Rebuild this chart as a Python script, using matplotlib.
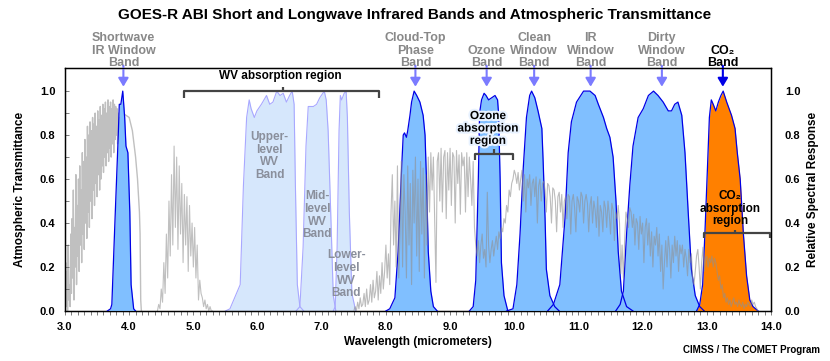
import numpy as np
import matplotlib
matplotlib.use("Agg")
import matplotlib.pyplot as plt
import matplotlib.patheffects as pe

plt.rcParams["font.family"] = ["Liberation Sans", "DejaVu Sans"]
plt.rcParams["font.weight"] = "bold"

# ---- atmospheric transmittance (gray), sampled segments
trans_swir = [
    0.05, 0.22, 0.02, 0.18, 0.00, 0.30, 0.05, 0.12, 0.02, 0.35,
    0.08, 0.42, 0.15, 0.55, 0.05, 0.38, 0.20, 0.62, 0.12, 0.48,
    0.25, 0.60, 0.18, 0.66, 0.30, 0.55, 0.22, 0.72, 0.35, 0.68,
    0.28, 0.78, 0.40, 0.70, 0.33, 0.84, 0.45, 0.80, 0.38, 0.86,
    0.50, 0.82, 0.42, 0.88, 0.55, 0.85, 0.48, 0.90, 0.58, 0.84,
    0.52, 0.91, 0.62, 0.87, 0.55, 0.93, 0.60, 0.89, 0.66, 0.94,
    0.63, 0.92, 0.70, 0.95, 0.66, 0.90, 0.72, 0.96, 0.68, 0.93,
    0.74, 0.95, 0.70, 0.92, 0.76, 0.96, 0.72, 0.94, 0.78, 0.93,
    0.80, 0.92, 0.76, 0.90, 0.82, 0.88, 0.84, 0.90, 0.86, 0.89,
]
trans_swir_tail_wl = [3.90, 3.95, 4.00, 4.05, 4.10, 4.13, 4.16, 4.17, 4.18, 4.19]
trans_swir_tail = [0.90, 0.89, 0.88, 0.82, 0.70, 0.60, 0.45, 0.35, 0.05, 0.00]
trans_mwir = [
    0.00, 0.03, 0.01, 0.10, 0.04, 0.22, 0.08, 0.35, 0.15, 0.50,
    0.25, 0.62, 0.30, 0.75, 0.38, 0.70, 0.28, 0.66, 0.35, 0.58,
    0.22, 0.53, 0.30, 0.52, 0.18, 0.48, 0.25, 0.40, 0.20, 0.38,
    0.15, 0.30, 0.05, 0.14, 0.08, 0.06, 0.02, 0.05, 0.01, 0.03,
    0.00, 0.02, 0.00, 0.00,
]
trans_lwir = [
    0.00, 0.02, 0.00, 0.04, 0.01, 0.06, 0.02, 0.03, 0.08, 0.02,
    0.10, 0.03, 0.05, 0.12, 0.04, 0.14, 0.06, 0.09, 0.18, 0.05,
    0.16, 0.08, 0.22, 0.10, 0.18, 0.30, 0.15, 0.26, 0.12, 0.45,
    0.62, 0.30, 0.50, 0.20, 0.66, 0.15,
    0.35, 0.68, 0.20, 0.62, 0.45, 0.15, 0.66, 0.30, 0.58, 0.12,
    0.64, 0.40, 0.70, 0.25, 0.60, 0.18, 0.68, 0.35, 0.65, 0.15,
    0.62, 0.30, 0.70, 0.45, 0.72, 0.55, 0.70, 0.42, 0.13, 0.68,
    0.72, 0.50, 0.74, 0.45, 0.70, 0.73, 0.42, 0.72, 0.55, 0.74,
    0.48, 0.72, 0.70, 0.40, 0.73, 0.58, 0.71, 0.44, 0.72, 0.66,
    0.70, 0.45, 0.72, 0.52, 0.70, 0.60, 0.48, 0.68, 0.38, 0.30,
    0.25, 0.32, 0.22, 0.30, 0.35, 0.24, 0.28, 0.20, 0.54, 0.30,
    0.22, 0.28, 0.32, 0.25, 0.30, 0.34, 0.28, 0.36, 0.33, 0.38,
    0.36, 0.42, 0.40, 0.48, 0.45, 0.55, 0.52, 0.58, 0.60, 0.64,
    0.62, 0.58, 0.63, 0.55, 0.60, 0.64, 0.50, 0.62, 0.45, 0.60,
    0.56, 0.62, 0.48, 0.58, 0.60, 0.52, 0.61, 0.40, 0.57, 0.60,
    0.50, 0.58, 0.59, 0.55, 0.45, 0.58, 0.57, 0.52, 0.40, 0.56,
    0.55, 0.50, 0.36, 0.52, 0.54, 0.45, 0.53, 0.38, 0.50, 0.52,
    0.42, 0.53, 0.52, 0.35, 0.50, 0.53, 0.47, 0.36, 0.52, 0.50,
    0.45, 0.54, 0.52, 0.40, 0.50, 0.53, 0.49, 0.36, 0.48, 0.52,
    0.40, 0.50, 0.46, 0.38, 0.52, 0.34, 0.48, 0.45, 0.36, 0.50,
    0.47, 0.38, 0.50, 0.44, 0.35, 0.49, 0.46, 0.32, 0.45, 0.42,
    0.48, 0.40, 0.17, 0.30, 0.15, 0.32, 0.45, 0.42, 0.38, 0.47,
    0.45, 0.38, 0.44, 0.30, 0.42, 0.40, 0.28, 0.43, 0.35, 0.40,
    0.22, 0.38, 0.42, 0.30, 0.40, 0.25, 0.36, 0.20, 0.34, 0.30,
    0.38, 0.25, 0.35, 0.18, 0.30, 0.10, 0.22, 0.32, 0.20, 0.34,
    0.28, 0.15, 0.30, 0.22, 0.34, 0.25, 0.32, 0.18, 0.30, 0.26,
    0.30, 0.20, 0.28, 0.24, 0.16, 0.28, 0.22, 0.26, 0.14, 0.12,
    0.18, 0.25, 0.28, 0.20, 0.10, 0.22, 0.29, 0.18, 0.24, 0.25,
    0.20, 0.24, 0.22, 0.25, 0.20, 0.24, 0.22, 0.18, 0.14, 0.16,
    0.10, 0.12, 0.06, 0.08, 0.04, 0.06, 0.03, 0.05, 0.02, 0.04,
    0.06, 0.03, 0.04, 0.02, 0.05, 0.03, 0.02, 0.04, 0.01, 0.03,
    0.02, 0.04, 0.03, 0.02, 0.05, 0.03, 0.04, 0.02, 0.01, 0.00,
]

# ---- ABI band relative spectral response
bands = {
    "swir":   ([3.66, 3.71, 3.73, 3.78, 3.83, 3.846, 3.87, 3.90, 3.93, 3.95, 3.98, 4.01, 4.03, 4.07, 4.10],
               [0.00, 0.01, 0.03, 0.42, 0.80, 0.94, 0.94, 1.00, 0.88, 0.75, 0.72, 0.45, 0.12, 0.01, 0.00]),
    "ctp":    ([8.00, 8.06, 8.14, 8.19, 8.245, 8.27, 8.29, 8.32, 8.34, 8.375, 8.40, 8.44, 8.48, 8.53, 8.58, 8.61, 8.635, 8.66, 8.70, 8.74, 8.80],
               [0.00, 0.01, 0.06, 0.27, 0.65, 0.80, 0.81, 0.79, 0.82, 0.89, 0.95, 1.00, 0.98, 0.95, 0.89, 0.80, 0.57, 0.27, 0.09, 0.02, 0.00]),
    "ozone":  ([9.30, 9.36, 9.40, 9.44, 9.46, 9.49, 9.53, 9.56, 9.60, 9.65, 9.70, 9.74, 9.755, 9.78, 9.80, 9.84, 9.90],
               [0.00, 0.02, 0.14, 0.60, 0.90, 0.96, 0.99, 0.98, 0.96, 0.97, 0.98, 0.96, 0.90, 0.60, 0.22, 0.07, 0.00]),
    "clean":  ([9.88, 9.98, 10.04, 10.09, 10.14, 10.19, 10.24, 10.27, 10.32, 10.37, 10.43, 10.45, 10.48, 10.50, 10.555, 10.63, 10.70],
               [0.00, 0.01, 0.12, 0.35, 0.65, 0.88, 0.98, 1.00, 0.97, 0.91, 0.83, 0.68, 0.42, 0.19, 0.07, 0.02, 0.00]),
    "ir":     ([10.52, 10.61, 10.71, 10.79, 10.84, 10.89, 10.97, 11.08, 11.18, 11.26, 11.31, 11.39, 11.44, 11.49, 11.54, 11.585, 11.62, 11.67, 11.75, 11.85],
               [0.00, 0.03, 0.12, 0.42, 0.72, 0.86, 0.95, 1.00, 1.00, 0.98, 0.94, 0.88, 0.83, 0.79, 0.70, 0.50, 0.27, 0.09, 0.02, 0.00]),
    "dirty":  ([11.58, 11.65, 11.70, 11.75, 11.80, 11.85, 11.93, 12.01, 12.09, 12.17, 12.24, 12.32, 12.40, 12.45, 12.50, 12.55, 12.61, 12.66, 12.71, 12.76, 12.82, 12.89, 12.96],
               [0.00, 0.03, 0.09, 0.35, 0.57, 0.75, 0.88, 0.92, 0.98, 1.00, 0.98, 0.95, 0.91, 0.91, 0.94, 0.95, 0.89, 0.72, 0.45, 0.19, 0.07, 0.02, 0.00]),
    "co2":    ([12.84, 12.89, 12.935, 12.97, 13.01, 13.04, 13.07, 13.10, 13.14, 13.18, 13.22, 13.255, 13.31, 13.385, 13.44, 13.475, 13.52, 13.57, 13.62, 13.67, 13.72, 13.80],
               [0.00, 0.03, 0.12, 0.35, 0.65, 0.88, 0.96, 0.94, 0.91, 0.95, 0.98, 1.00, 0.95, 0.89, 0.83, 0.72, 0.60, 0.35, 0.16, 0.05, 0.02, 0.00]),
}
wv_bands = {
    "upper":  ([5.50, 5.57, 5.73, 5.78, 5.83, 5.87, 5.90, 5.95, 5.99, 6.06, 6.14, 6.19, 6.24, 6.30, 6.35, 6.40, 6.45, 6.50, 6.54, 6.57, 6.59, 6.62, 6.66, 6.72],
               [0.00, 0.01, 0.12, 0.57, 0.88, 0.96, 0.92, 0.88, 0.91, 0.94, 0.98, 0.94, 0.95, 1.00, 0.98, 0.99, 0.95, 0.98, 1.00, 0.94, 0.57, 0.12, 0.02, 0.00]),
    "mid":    ([6.60, 6.66, 6.71, 6.755, 6.79, 6.87, 6.92, 6.97, 7.04, 7.07, 7.10, 7.14, 7.18, 7.22],
               [0.00, 0.02, 0.29, 0.75, 0.93, 0.93, 0.94, 0.97, 1.00, 0.96, 0.82, 0.45, 0.07, 0.00]),
    "lower":  ([7.18, 7.21, 7.24, 7.27, 7.29, 7.31, 7.35, 7.38, 7.40, 7.43, 7.47, 7.53],
               [0.00, 0.02, 0.29, 0.82, 0.98, 0.96, 0.99, 1.00, 0.88, 0.45, 0.08, 0.00]),
}

# ---- labels above the plot: (wavelength, text, colour)
band_labels = [
    (3.91, "Shortwave\nIR Window\nBand", "#888888"),
    (8.46, "Cloud-Top\nPhase\nBand", "#888888"),
    (9.57, "Ozone\nBand", "#888888"),
    (10.31, "Clean\nWindow\nBand", "#888888"),
    (11.19, "IR\nWindow\nBand", "#888888"),
    (12.30, "Dirty\nWindow\nBand", "#888888"),
    (13.25, "CO\u2082\nBand", "black"),
]
wv_labels = [
    (6.19, 0.705, "Upper-\nlevel\nWV\nBand"),
    (6.93, 0.436, "Mid-\nlevel\nWV\nBand"),
    (7.38, 0.168, "Lower-\nlevel\nWV\nBand"),
]

BLUE_FILL = "#80bfff"
BLUE_EDGE = "#0000e6"
WV_FILL = "#d6e7fc"
WV_EDGE = "#a8a8ff"
ORANGE = "#ff8000"

fig = plt.figure(figsize=(8.3, 3.61), dpi=100)
ax = fig.add_axes([0.0783, 0.1385, 0.8506, 0.6731])

# gray transmittance under the shortwave band
swir_wl = 3.0 + 0.01 * np.arange(len(trans_swir))
ax.plot(list(swir_wl) + trans_swir_tail_wl, trans_swir + trans_swir_tail,
        color="#c0c0c0", lw=1.0, zorder=1)
mwir_wl = 4.44 + 0.02 * np.arange(len(trans_mwir))
ax.plot(mwir_wl, trans_mwir, color="#c0c0c0", lw=0.8, zorder=1)

for name, (wl, rsp) in wv_bands.items():
    ax.fill_between(wl, rsp, color=WV_FILL, lw=0, zorder=2)
    ax.plot(wl, rsp, color=WV_EDGE, lw=0.8, zorder=2.5)

for name, (wl, rsp) in bands.items():
    fc = ORANGE if name == "co2" else BLUE_FILL
    ax.fill_between(wl, rsp, color=fc, lw=0, zorder=3)
    ax.plot(wl, rsp, color=BLUE_EDGE, lw=0.9, zorder=3.5)

# longwave transmittance drawn over the bands
lwir_wl = 7.50 + 0.02 * np.arange(len(trans_lwir))
ax.plot(lwir_wl, trans_lwir, color="#909090", lw=0.8, alpha=0.6, zorder=4)

ax.set_xlim(3.0, 14.0)
ax.set_ylim(0, 1.105)
ax.set_xticks(np.arange(3, 14.01, 1.0))
ax.set_xticklabels([f"{v:.1f}" for v in np.arange(3, 14.01, 1.0)], fontsize=8, fontweight="bold")
ax.set_xticks(np.arange(3, 14.01, 0.1), minor=True)
ax.set_yticks(np.arange(0, 1.01, 0.2))
ax.set_yticklabels([f"{v:.1f}" for v in np.arange(0, 1.01, 0.2)], fontsize=8, fontweight="bold")
ax.set_yticks(np.arange(0, 1.01, 0.1), minor=True)
ax.tick_params(axis="x", which="both", direction="out", length=3, width=0.6, pad=5, color="#666666")
ax.tick_params(axis="y", which="both", direction="in", length=3, width=0.6, pad=7, color="#666666")
for sp in ax.spines.values():
    sp.set_linewidth(1.0)
ax.set_xlabel("Wavelength (micrometers)", fontsize=8.5, fontweight="bold", labelpad=3)
ax.set_ylabel("Atmospheric Transmittance", fontsize=8.5, fontweight="bold", labelpad=10)

ax2 = ax.twinx()
ax2.set_ylim(0, 1.105)
ax2.set_yticks(np.arange(0, 1.01, 0.2))
ax2.set_yticklabels([f"{v:.1f}" for v in np.arange(0, 1.01, 0.2)], fontsize=8, fontweight="bold")
ax2.tick_params(axis="y", length=0, pad=10)
ax2.set_ylabel("Relative Spectral Response", fontsize=8.5, fontweight="bold", labelpad=5)

# arrows and band labels above the plot
for wl, text, col in band_labels:
    arrow_col = "#0000e6" if col == "black" else "#7b7bff"
    ax.annotate("", xy=(wl, 1.02), xytext=(wl, 1.115),
                arrowprops=dict(arrowstyle="-|>,head_length=0.5,head_width=0.3",
                                color=arrow_col, lw=1.5, shrinkA=0, shrinkB=0),
                annotation_clip=False, zorder=6)
    ax.text(wl, 1.10, text, ha="center", va="bottom", fontsize=9,
            fontweight="bold", color=col, linespacing=1.05, clip_on=False)

for wl, y, text in wv_labels:
    ax.text(wl, y, text, ha="center", va="center", fontsize=8.5,
            fontweight="bold", color="#8a8f9c", linespacing=1.1, zorder=5)

# absorption-region brackets
def bracket(x0, x1, xc, y, drop, rise):
    kw = dict(color="#444444", lw=1.6, zorder=7, solid_capstyle="butt")
    ax.plot([x0, x0, x1, x1], [y - drop, y, y, y - drop], **kw)
    ax.plot([xc, xc], [y, y + rise], **kw)

bracket(4.85, 7.90, 6.39, 1.0, 0.03, 0.02)
ax.text(6.36, 1.068, "WV absorption region", ha="center", va="center",
        fontsize=8.5, fontweight="bold", color="black")
bracket(9.39, 9.98, 9.68, 0.714, 0.028, 0.022)
ax.text(9.59, 0.83, "Ozone\nabsorption\nregion", ha="center", va="center",
        fontsize=8.5, fontweight="bold", color="black", linespacing=1.05, zorder=8,
        path_effects=[pe.withStroke(linewidth=3, foreground="#e8f2ff")])
bracket(12.95, 13.98, 13.44, 0.353, 0.023, 0.017)
ax.text(13.36, 0.465, "CO\u2082\nabsorption\nregion", ha="center", va="center",
        fontsize=8.5, fontweight="bold", color="black", linespacing=1.05, zorder=8)

fig.suptitle("GOES-R ABI Short and Longwave Infrared Bands and Atmospheric Transmittance",
             x=0.5, y=0.977, fontsize=11, fontweight="bold")
fig.text(0.988, 0.016, "CIMSS / The COMET Program", ha="right", va="bottom",
         fontsize=7, fontweight="bold")

fig.savefig("out.png", dpi=100)
